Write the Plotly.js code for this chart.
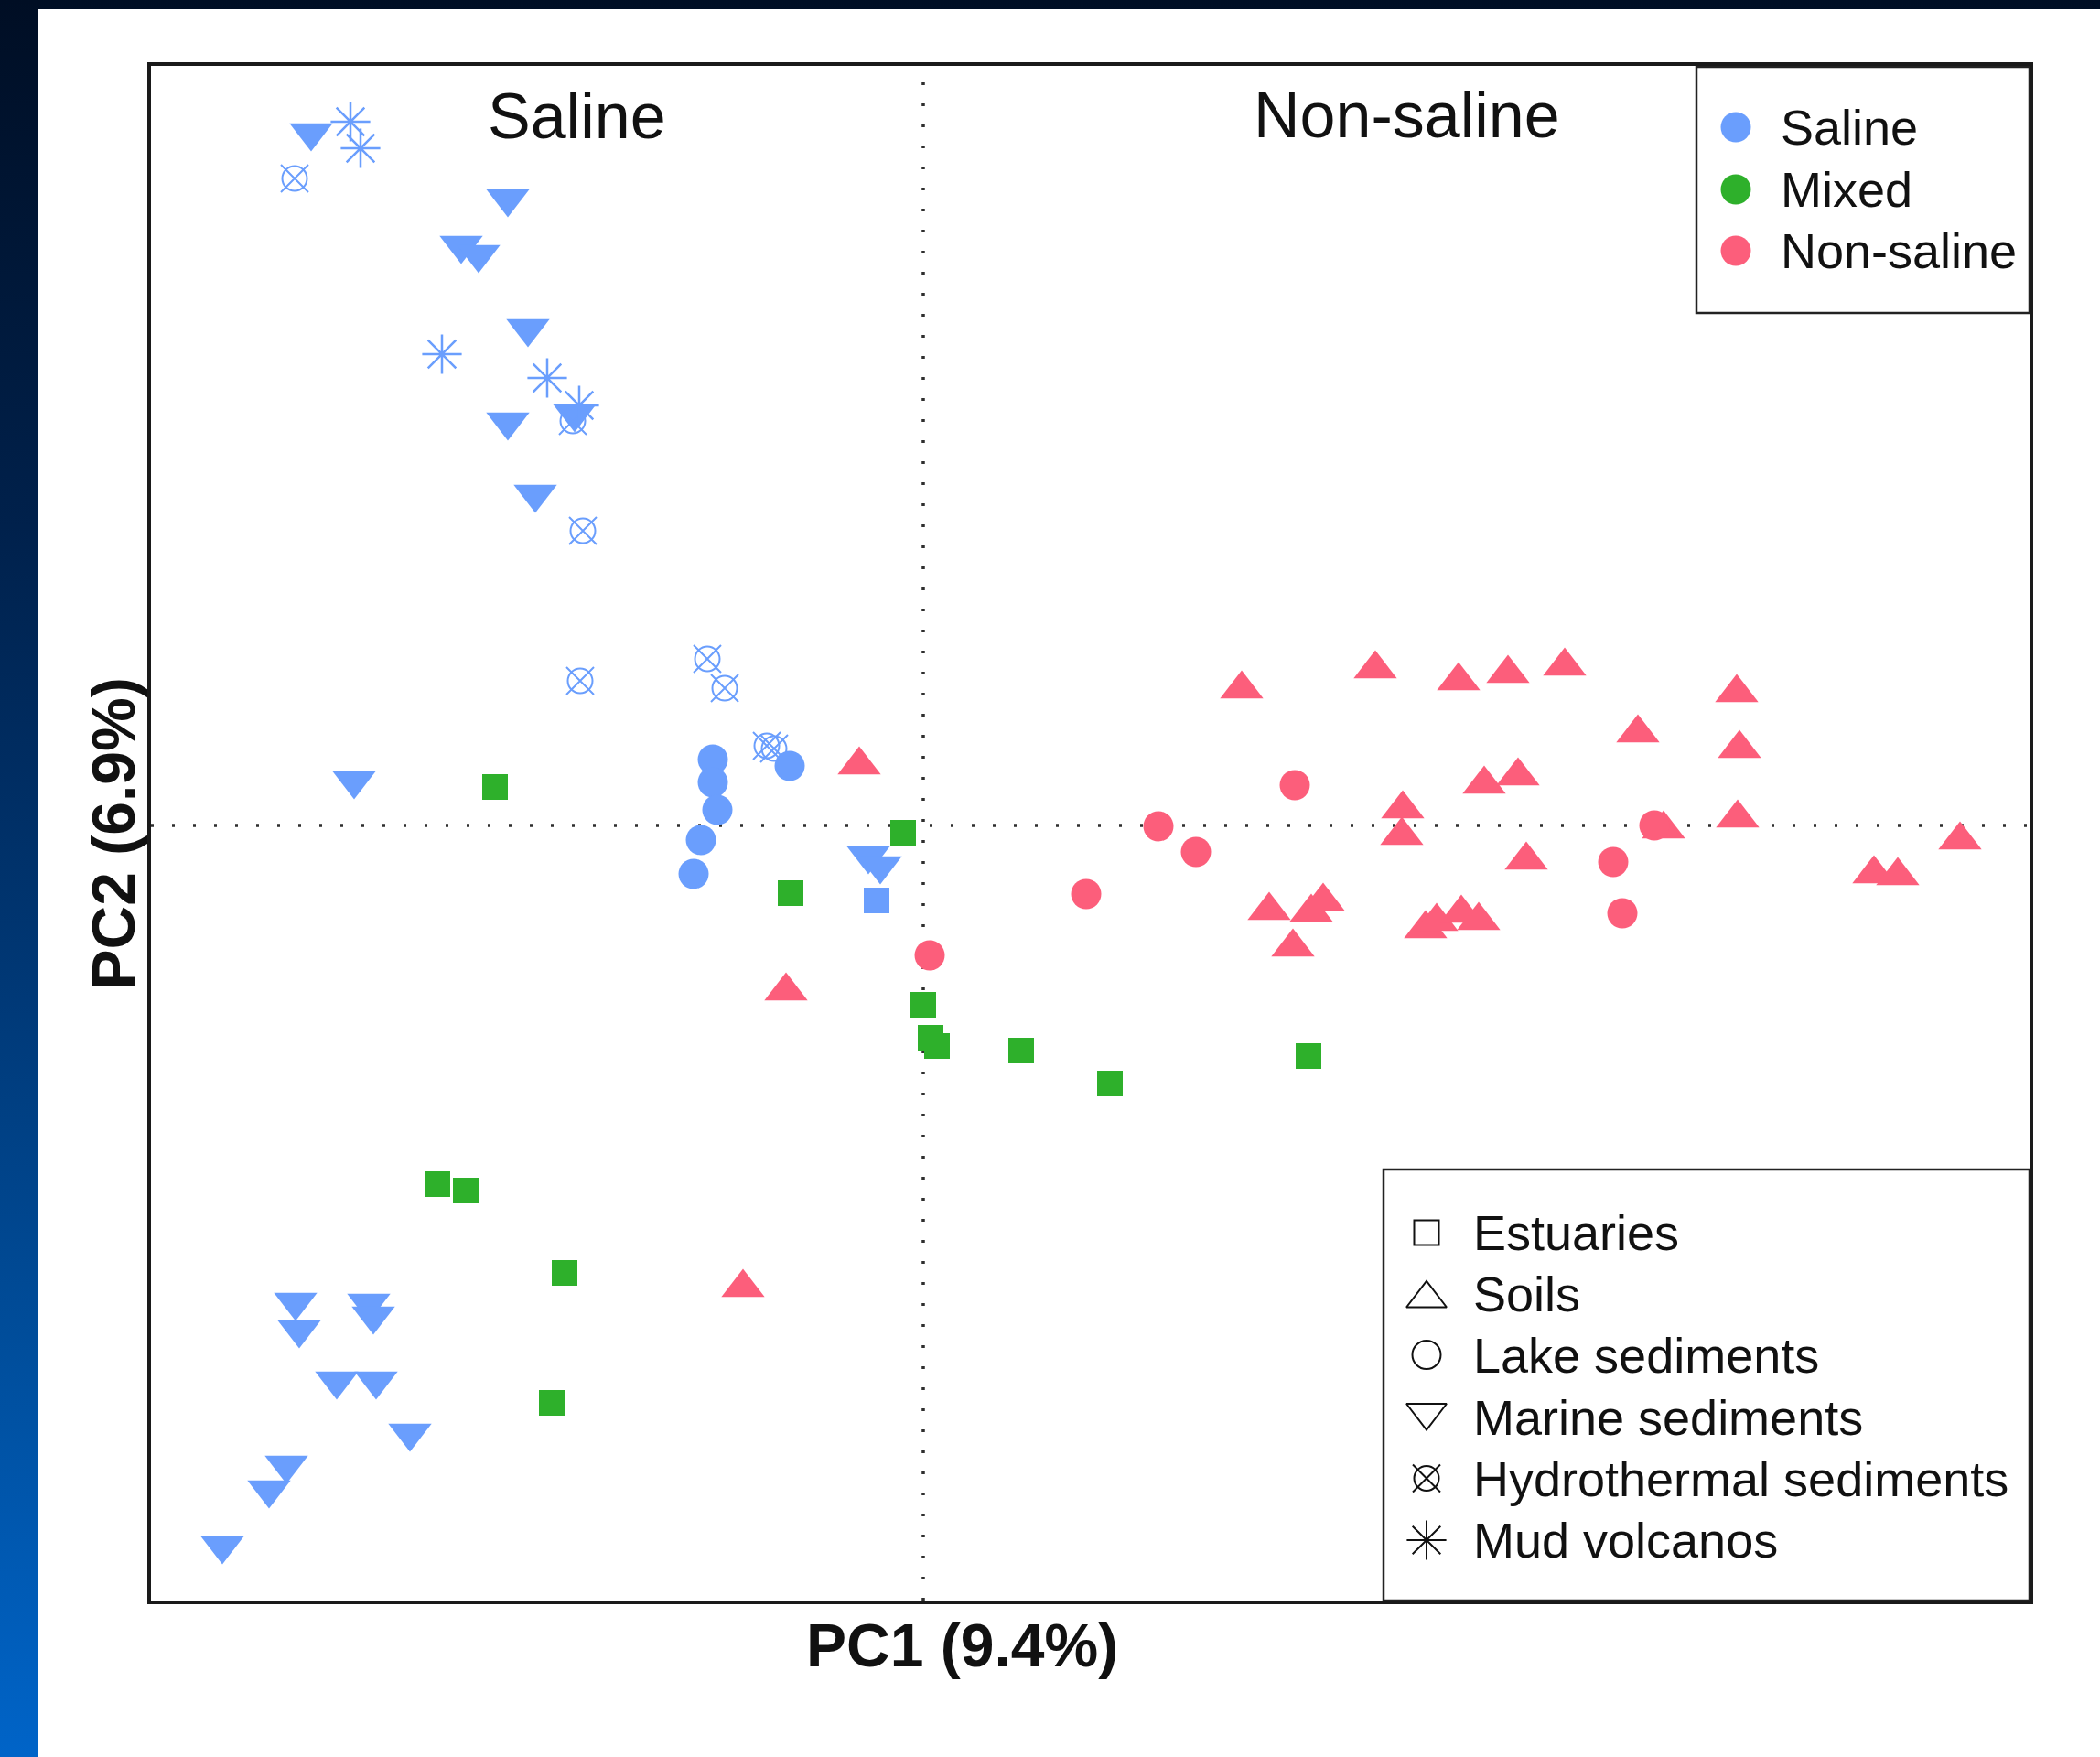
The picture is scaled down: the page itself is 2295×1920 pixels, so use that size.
<!DOCTYPE html>
<html>
<head>
<meta charset="utf-8">
<script src="https://cdn.plot.ly/plotly-3.0.1.min.js"></script>
<style>
  html, body { margin: 0; padding: 0; width: 2295px; height: 1920px; overflow: hidden;
    background: linear-gradient(to bottom, #000e24 0%, #00214c 30%, #003774 55%, #004f9e 78%, #0064c8 100%); }
  #chart { position: absolute; left: 41px; top: 10px; width: 2254px; height: 1910px; background: #ffffff; }
</style>
</head>
<body>
<div id="chart"></div>
<script>
// Category labels
const salinityClasses = ['Saline', 'Mixed', 'Non-saline'];
const habitatTypes = ['Estuaries', 'Soils', 'Lake sediments', 'Marine sediments', 'Hydrothermal sediments', 'Mud volcanos'];
const axisTitleX = 'PC1 (9.4%)';
const axisTitleY = 'PC2 (6.9%)';

// PCA scores (PC1, PC2) by salinity class and habitat
// Saline – marine sediments
const salMarinePC1 = [-0.3345, -0.227, -0.2525, -0.243, -0.216, -0.1905, -0.227, -0.212, -0.311, -0.030, -0.0235,
                      -0.343, -0.341, -0.303, -0.3005, -0.3205, -0.299, -0.2805, -0.348, -0.3575, -0.383];
const salMarinePC2 = [0.3785, 0.3425, 0.317, 0.312, 0.2715, 0.225, 0.2205, 0.181, 0.0245, -0.0165, -0.022,
                      -0.2605, -0.2755, -0.261, -0.268, -0.3035, -0.3035, -0.332, -0.3495, -0.363, -0.3935];
// Saline – hydrothermal sediments
const salHydroPC1 = [-0.3435, -0.1915, -0.186, -0.1875, -0.118, -0.1085, -0.0855, -0.0815];
const salHydroPC2 = [0.3535, 0.221, 0.161, 0.079, 0.091, 0.075, 0.0435, 0.042];
// Saline – mud volcanos
const salMudPC1 = [-0.313, -0.3075, -0.263, -0.2055, -0.188];
const salMudPC2 = [0.3845, 0.370, 0.2575, 0.2445, 0.2295];
// Saline – lake sediments
const salLakePC1 = [-0.115, -0.115, -0.1125, -0.1215, -0.1255, -0.073];
const salLakePC2 = [0.036, 0.0235, 0.0085, -0.008, -0.0265, 0.0325];
// Saline – estuaries
const salEstPC1 = [-0.0255];
const salEstPC2 = [-0.041];
// Mixed – estuaries
const mixEstPC1 = [-0.2655, -0.250, -0.196, -0.203, -0.234, -0.011, -0.0725, 0.000, 0.004, 0.0075, 0.0535, 0.102, 0.2105];
const mixEstPC2 = [-0.196, -0.1995, -0.2445, -0.3155, 0.021, -0.004, -0.037, -0.098, -0.116, -0.1205, -0.123, -0.141, -0.126];
// Non-saline – soils
const nonSoilPC1 = [-0.035, -0.075, -0.0985, 0.174, 0.247, 0.2925, 0.3195, 0.3505, 0.4445, 0.3905, 0.446, 0.3065,
                    0.325, 0.262, 0.2615, 0.3295, 0.445, 0.4045, 0.5665, 0.5195, 0.5325, 0.189, 0.212, 0.2185,
                    0.202, 0.2745, 0.2805, 0.294, 0.3035];
const nonSoilPC2 = [0.033, -0.0905, -0.2525, 0.0745, 0.0855, 0.079, 0.083, 0.087, 0.0725, 0.0505, 0.042, 0.0225,
                    0.027, 0.009, -0.0055, -0.019, 0.004, -0.002, -0.008, -0.0265, -0.0275, -0.0465, -0.0475, -0.0415,
                    -0.0665, -0.0565, -0.0525, -0.048, -0.052];
// Non-saline – lake sediments
const nonLakePC1 = [0.203, 0.149, 0.1285, 0.089, 0.0035, 0.377, 0.382, 0.3995];
const nonLakePC2 = [0.022, -0.0145, -0.0005, -0.0375, -0.071, -0.020, -0.048, 0.000];

// Styling
const colBlue = '#6a9efd';
const colGreen = '#2eb02b';
const colPink = '#fc5e7b';
const classColors = [colBlue, colGreen, colPink];
const ink = '#111111';
const fontFam = '"Liberation Sans", Arial, Helvetica, sans-serif';

function filled(x, y, symbol, size, color) {
  return { type: 'scatter', mode: 'markers', x: x, y: y, hoverinfo: 'skip',
    marker: { symbol: symbol, size: size, color: color, line: { width: 0 } } };
}
function outline(x, y, symbol, size, color, lw) {
  return { type: 'scatter', mode: 'markers', x: x, y: y, hoverinfo: 'skip',
    marker: { symbol: symbol, size: size, color: color, line: { width: lw, color: color } } };
}

const traces = [
  filled(salMarinePC1, salMarinePC2, 'triangle-down', 41, colBlue),
  outline(salHydroPC1, salHydroPC2, 'circle-open', 27, colBlue, 2),
  outline(salHydroPC1, salHydroPC2, 'x-thin-open', 30, colBlue, 2),
  outline(salMudPC1, salMudPC2, 'asterisk-open', 36, colBlue, 2.5),
  filled(salLakePC1, salLakePC2, 'circle', 33, colBlue),
  filled(salEstPC1, salEstPC2, 'square', 28, colBlue),
  filled(mixEstPC1, mixEstPC2, 'square', 28, colGreen),
  filled(nonSoilPC1, nonSoilPC2, 'triangle-up', 41, colPink),
  filled(nonLakePC1, nonLakePC2, 'circle', 33, colPink)
];

// Key panels are laid out on a pixel-based overlay axis (x2/y2) spanning the plot area
const keyA = { x0: 1689, x1: 2053, y0: 1, y1: 270, symX: 1732, textX: 1779, rows: [67, 135, 202] };
const keyB = { x0: 1347, x1: 2053, y0: 1206, y1: 1677, symX: 1394, textX: 1443,
               rows: [1275, 1342, 1408.5, 1476.5, 1543.5, 1611] };

// salinity key: coloured dots
traces.push({ type: 'scatter', mode: 'markers', xaxis: 'x2', yaxis: 'y2', hoverinfo: 'skip',
  x: salinityClasses.map(() => keyA.symX), y: keyA.rows,
  marker: { symbol: 'circle', size: 33, color: classColors, line: { width: 0 } } });

// habitat key: outlined symbols
const keySymbols = [
  { s: 'square-open', size: 27, dy: 0 },
  { s: 'triangle-up-open', size: 38, dy: 5 },
  { s: 'circle-open', size: 31, dy: 0 },
  { s: 'triangle-down-open', size: 38, dy: -5 },
  { s: 'circle-open', size: 27, dy: 0 },
  { s: 'asterisk-open', size: 36, dy: 0 }
];
keySymbols.forEach((k, i) => {
  traces.push({ type: 'scatter', mode: 'markers', xaxis: 'x2', yaxis: 'y2', hoverinfo: 'skip',
    x: [keyB.symX], y: [keyB.rows[i] + k.dy],
    marker: { symbol: k.s, size: k.size, color: ink, line: { width: 2, color: ink } } });
});
traces.push({ type: 'scatter', mode: 'markers', xaxis: 'x2', yaxis: 'y2', hoverinfo: 'skip',
  x: [keyB.symX], y: [keyB.rows[4]],
  marker: { symbol: 'x-thin-open', size: 30, color: ink, line: { width: 2, color: ink } } });

const annotations = [];
salinityClasses.forEach((label, i) => {
  annotations.push({ xref: 'x2', yref: 'y2', x: keyA.textX, y: keyA.rows[i], text: label,
    showarrow: false, xanchor: 'left', yanchor: 'middle', font: { size: 54, color: ink, family: fontFam } });
});
habitatTypes.forEach((label, i) => {
  annotations.push({ xref: 'x2', yref: 'y2', x: keyB.textX, y: keyB.rows[i], text: label,
    showarrow: false, xanchor: 'left', yanchor: 'middle', font: { size: 54, color: ink, family: fontFam } });
});
annotations.push(
  { xref: 'paper', yref: 'paper', x: 0.2267, y: 0.9672, text: 'Saline', showarrow: false,
    xanchor: 'center', yanchor: 'middle', font: { size: 70, color: ink, family: fontFam } },
  { xref: 'paper', yref: 'paper', x: 0.6683, y: 0.9678, text: 'Non-saline', showarrow: false,
    xanchor: 'center', yanchor: 'middle', font: { size: 70, color: ink, family: fontFam } },
  { xref: 'paper', yref: 'paper', x: 0.432, y: -0.0295, text: '<b>' + axisTitleX + '</b>', showarrow: false,
    xanchor: 'center', yanchor: 'middle', font: { size: 66, color: ink, family: fontFam } },
  { xref: 'paper', yref: 'paper', x: -0.0200, y: 0.5, text: '<b>' + axisTitleY + '</b>', showarrow: false,
    textangle: -90, xanchor: 'center', yanchor: 'middle', font: { size: 66, color: ink, family: fontFam } }
);

const dotted = { color: '#2e2e2e', width: 3.5, dash: '3px,20px' };
const shapes = [
  { type: 'line', xref: 'x', yref: 'paper', x0: 0, x1: 0, y0: 0, y1: 1, line: dotted, layer: 'below' },
  { type: 'line', xref: 'paper', yref: 'y', x0: 0, x1: 1, y0: 0, y1: 0, line: dotted, layer: 'below' },
  { type: 'rect', xref: 'x2', yref: 'y2', x0: keyA.x0, x1: keyA.x1, y0: keyA.y0, y1: keyA.y1,
    line: { color: '#222', width: 2.5 }, fillcolor: '#ffffff', layer: 'below' },
  { type: 'rect', xref: 'x2', yref: 'y2', x0: keyB.x0, x1: keyB.x1, y0: keyB.y0, y1: keyB.y1,
    line: { color: '#222', width: 2.5 }, fillcolor: '#ffffff', layer: 'below' }
];

const frameAxis = { showgrid: false, zeroline: false, showticklabels: false, ticks: '',
  showline: true, mirror: true, linecolor: '#1a1a1a', linewidth: 4, fixedrange: true };

const layout = {
  width: 2254, height: 1910,
  margin: { l: 124, r: 77, t: 62, b: 171, pad: 0 },
  paper_bgcolor: '#ffffff', plot_bgcolor: '#ffffff',
  showlegend: false,
  font: { family: fontFam, color: ink },
  xaxis: Object.assign({ range: [-0.422, 0.6045] }, frameAxis),
  yaxis: Object.assign({ range: [-0.4235, 0.415] }, frameAxis),
  xaxis2: { overlaying: 'x', anchor: 'y2', range: [0, 2053], visible: false, fixedrange: true },
  yaxis2: { overlaying: 'y', anchor: 'x2', range: [1677, 0], visible: false, fixedrange: true },
  shapes: shapes,
  annotations: annotations
};

Plotly.newPlot('chart', traces, layout, { staticPlot: true, displayModeBar: false });
</script>
</body>
</html>
